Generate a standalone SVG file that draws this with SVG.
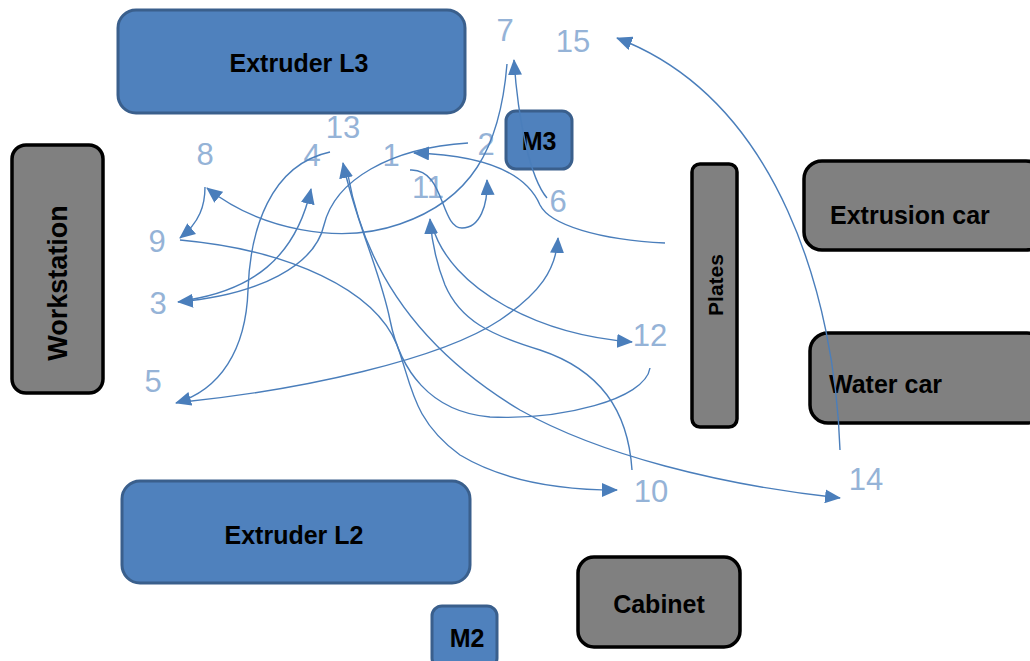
<svg xmlns="http://www.w3.org/2000/svg" width="1030" height="661" viewBox="0 0 1030 661">
<style>
.blue{fill:#4f81bd;stroke:#3a5f8c;stroke-width:3}
.gray{fill:#808080;stroke:#000;stroke-width:3.5}
.t{font-family:"Liberation Sans",Arial,sans-serif;font-weight:bold;font-size:25px;fill:#000;text-anchor:middle;dominant-baseline:central}
.lbl{font-family:"Liberation Sans",Arial,sans-serif;font-size:31px;fill:#95b3d7;text-anchor:middle}
.c{fill:none;stroke:#4a7ebb;stroke-width:1.4;marker-end:url(#a)}
</style>
<defs>
<marker id="a" markerWidth="16" markerHeight="14" refX="15" refY="7" orient="auto" markerUnits="userSpaceOnUse">
<path d="M0,0 L16,7 L0,14 z" fill="#4a7ebb"/>
</marker>
</defs>
<rect width="1030" height="661" fill="#fff"/>
<g id="extruder-l3"><rect class="blue" x="118" y="10" width="347" height="103" rx="18"/><text class="t" x="299" y="63">Extruder L3</text></g>
<g id="extruder-l2"><rect class="blue" x="122" y="481" width="348" height="102" rx="18"/><text class="t" x="294" y="535">Extruder L2</text></g>
<g id="m3"><rect class="blue" x="506" y="111" width="66" height="58" rx="10"/><text class="t" x="539" y="141">M3</text></g>
<g id="m2"><rect class="blue" x="432" y="606" width="65" height="62" rx="10"/><text class="t" x="467" y="638">M2</text></g>
<g id="workstation"><rect class="gray" x="12" y="145" width="91" height="248" rx="14"/><text class="t" style="font-size:27px" transform="translate(58,283) rotate(-90)" x="0" y="0">Workstation</text></g>
<g id="plates"><rect class="gray" x="692" y="164" width="45" height="263" rx="8"/><text class="t" style="font-size:21px" transform="translate(715,285) rotate(-90)" x="0" y="0">Plates</text></g>
<g id="extrusion-car"><rect class="gray" x="804" y="161" width="240" height="89" rx="18"/><text class="t" style="text-anchor:start" x="830" y="215">Extrusion car</text></g>
<g id="water-car"><rect class="gray" x="810" y="333" width="235" height="90" rx="18"/><text class="t" style="text-anchor:start" x="829" y="384">Water car</text></g>
<g id="cabinet"><rect class="gray" x="578" y="557" width="162" height="90" rx="16"/><text class="t" x="659" y="604">Cabinet</text></g>
<g id="labels">
<text class="lbl" x="505" y="41">7</text>
<text class="lbl" x="573" y="52">15</text>
<text class="lbl" x="343" y="138">13</text>
<text class="lbl" x="205" y="165">8</text>
<text class="lbl" x="312" y="166">4</text>
<text class="lbl" x="391" y="166">1</text>
<text class="lbl" x="486" y="155">2</text>
<text class="lbl" x="428" y="198">11</text>
<text class="lbl" x="558" y="212">6</text>
<text class="lbl" x="157" y="252">9</text>
<text class="lbl" x="158" y="314">3</text>
<text class="lbl" x="650" y="346">12</text>
<text class="lbl" x="153" y="392">5</text>
<text class="lbl" x="651" y="502">10</text>
<text class="lbl" x="866" y="490">14</text>
</g>
<g id="connectors">
<path class="c" d="M840,450 C835,300 780,100 617,38"/>
<path class="c" d="M547,198 C530,178 518,120 514,60"/>
<path class="c" d="M507,64 C500,150 470,200 400,224 C340,245 260,230 207,188"/>
<path class="c" d="M205,187 C205,205 200,222 180,238"/>
<path class="c" d="M180,240 C290,250 375,290 397,345 C412,385 412,420 460,455 C510,485 570,490 617,490"/>
<path class="c" d="M348,175 C365,270 420,350 520,410 C600,455 720,485 840,498"/>
<path class="c" d="M650,368 C645,400 560,420 490,417 C430,412 400,370 390,320 C380,270 355,220 343,163"/>
<path class="c" d="M632,470 C628,410 600,370 540,350 C490,335 460,320 445,285 C437,265 432,245 430,219"/>
<path class="c" d="M432,225 C450,290 540,335 632,342"/>
<path class="c" d="M183,402 C300,390 440,360 500,320 C540,293 556,270 558,238"/>
<path class="c" d="M330,152 C270,165 250,230 248,290 C246,350 220,390 176,403"/>
<path class="c" d="M188,300 C250,290 295,260 311,189"/>
<path class="c" d="M468,143 C390,148 335,180 324,225 C315,265 260,295 178,302"/>
<path class="c" d="M665,243 C600,240 550,225 540,205 C525,170 480,155 414,153"/>
<path class="c" d="M410,170 C445,168 440,228 462,228 C480,228 488,205 487,180"/>
</g>
</svg>
